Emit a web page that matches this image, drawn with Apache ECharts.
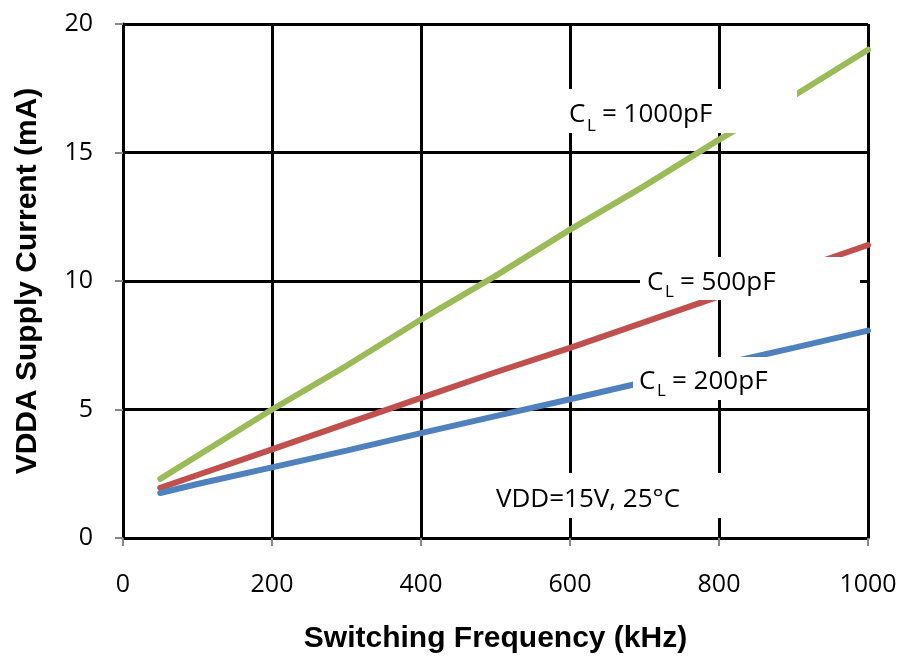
<!DOCTYPE html>
<html>
<head>
<meta charset="utf-8">
<script src="https://cdn.jsdelivr.net/npm/echarts@6/dist/echarts.min.js"></script>
<style>html,body{margin:0;padding:0;background:#fff}#c{width:901px;height:659px}</style>
</head>
<body>
<div id="c"></div>
<script>
var freq = [50, 100, 200, 300, 400, 500, 600, 700, 800, 900, 1000];
var cl1000 = [2.3, 3.2, 5.0, 6.7, 8.5, 10.2, 12.0, 13.7, 15.5, 17.2, 19.0];
var cl500 = [1.95, 2.45, 3.45, 4.45, 5.45, 6.45, 7.4, 8.4, 9.4, 10.4, 11.4];
var cl200 = [1.75, 2.1, 2.75, 3.4, 4.08, 4.74, 5.4, 6.07, 6.74, 7.4, 8.07];
var xTicks = [0, 200, 400, 600, 800, 1000];
var yTicks = [0, 5, 10, 15, 20];

function pairs(ys) { return freq.map(function (f, i) { return [f, ys[i]]; }); }

var FONT = 'Open Sans';
function note(box, parts) {
  var els = [{
    type: 'rect', z: 100, shape: { x: box[0], y: box[1], width: box[2] - box[0], height: box[3] - box[1] },
    style: { fill: '#ffffff', stroke: null }
  }];
  parts.forEach(function (p) {
    els.push({
      type: 'text', z: 101, x: p[1], y: p[2],
      style: { text: p[0], fontFamily: FONT, fontSize: p[3], fill: '#000', textAlign: 'left', textVerticalAlign: 'middle' }
    });
  });
  return els;
}

var chart = echarts.init(document.getElementById('c'));
var lineSeries = function (name, ys, color) {
  return {
    name: name, type: 'line', data: pairs(ys), showSymbol: false, symbol: 'none',
    lineStyle: { color: color, width: 6, cap: 'round' }, z: 5, animation: false
  };
};
var graphics = [].concat(
  note([550, 89, 797, 133], [['C', 569, 115, 26], ['L', 587, 126, 17], ['= 1000pF', 602, 115, 26]]),
  note([640, 257, 860, 300], [['C', 647, 283, 26], ['L', 665, 292, 17], ['= 500pF', 680, 283, 26]]),
  note([633, 357, 785, 400], [['C', 639, 382, 26], ['L', 657, 391, 17], ['= 200pF', 672, 382, 26]]),
  note([485, 473, 722, 518], [['VDD=15V, 25°C', 496, 500, 26]])
);
chart.setOption({
  animation: false,
  grid: { left: 123, right: 33, top: 24, bottom: 121 },
  xAxis: {
    type: 'value', min: 0, max: 1000, interval: 200,
    name: 'Switching Frequency (kHz)', nameLocation: 'middle', nameGap: 86,
    nameTextStyle: { fontFamily: 'Liberation Sans', fontWeight: 'bold', fontSize: 30, color: '#000' },
    axisLine: { show: true, lineStyle: { color: '#000', width: 3 } },
    axisTick: { show: true, inside: false, length: 8, lineStyle: { color: '#888', width: 2 } },
    axisLabel: { margin: 34, fontFamily: FONT, fontSize: 25, color: '#000',
      formatter: function (v) { return xTicks.indexOf(v) >= 0 ? String(v) : ''; } },
    splitLine: { show: true, lineStyle: { color: '#000', width: 3 } }
  },
  yAxis: {
    type: 'value', min: 0, max: 20, interval: 5,
    name: 'VDDA Supply Current (mA)', nameLocation: 'middle', nameGap: 80,
    nameTextStyle: { fontFamily: 'Liberation Sans', fontWeight: 'bold', fontSize: 30, color: '#000' },
    axisLine: { show: true, lineStyle: { color: '#000', width: 3 } },
    axisTick: { show: true, inside: false, length: 8, lineStyle: { color: '#888', width: 2 } },
    axisLabel: { margin: 30, fontFamily: FONT, fontSize: 25, color: '#000',
      formatter: function (v) { return yTicks.indexOf(v) >= 0 ? String(v) : ''; } },
    splitLine: { show: true, lineStyle: { color: '#000', width: 3 } }
  },
  series: [
    lineSeries('CL = 1000pF', cl1000, '#9BBB59'),
    lineSeries('CL = 500pF', cl500, '#C0504D'),
    lineSeries('CL = 200pF', cl200, '#4F81BD')
  ],
  graphic: graphics
});
</script>
</body>
</html>
